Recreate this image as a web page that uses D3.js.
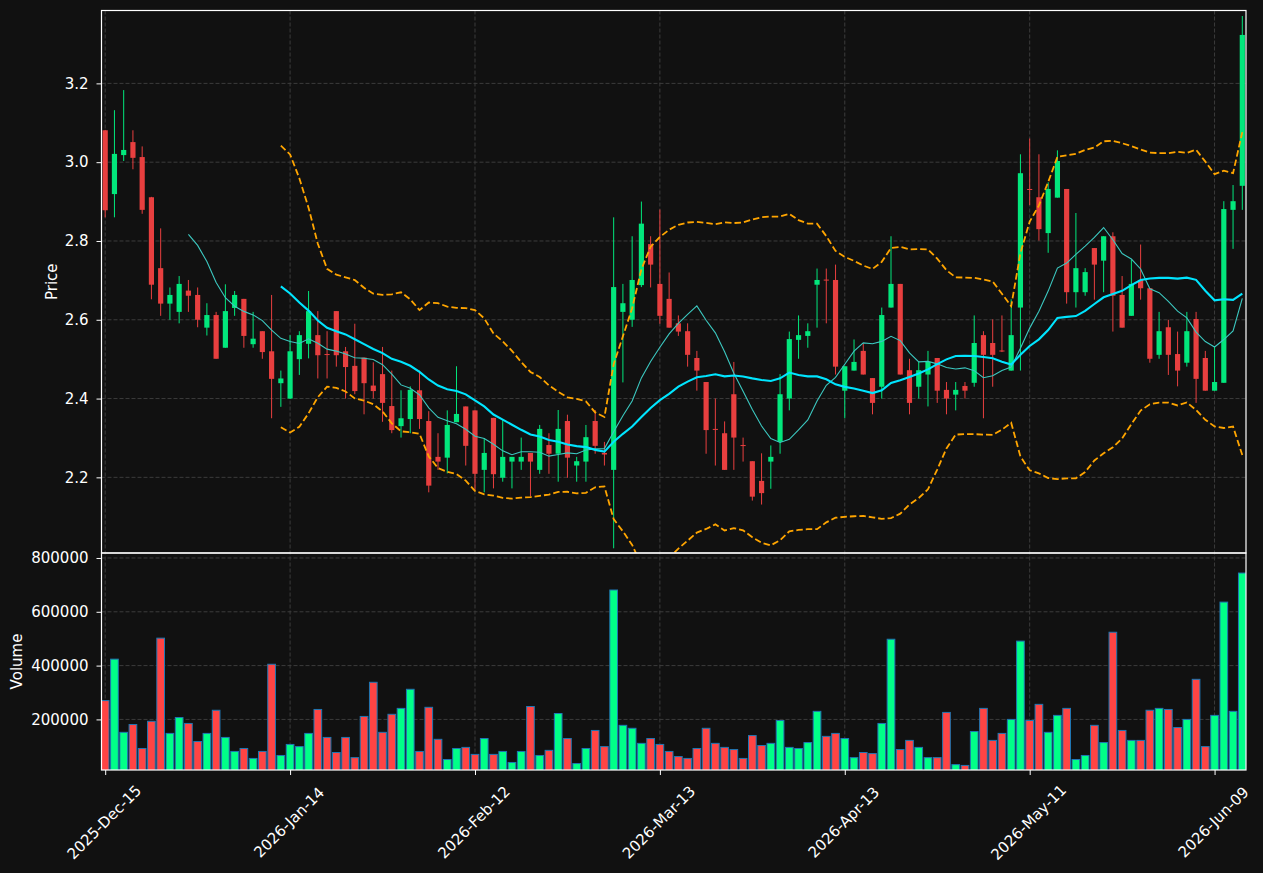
<!DOCTYPE html>
<html>
<head>
<meta charset="utf-8">
<script src="https://cdn.jsdelivr.net/npm/d3@7"></script>
<style>
  html, body { margin: 0; padding: 0; background: #111111; }
  svg { display: block; font-family: "DejaVu Sans", sans-serif; }
</style>
</head>
<body>
<div id="chart"></div>
<script>
// ========================
// Data
// ========================
const opens = [3.081,2.919,3.018,3.051,3.013,2.911,2.731,2.641,2.620,2.674,2.663,2.580,2.612,2.529,2.630,2.653,2.538,2.571,2.520,2.439,
  2.400,2.500,2.539,2.561,2.513,2.622,2.520,2.483,2.504,2.433,2.462,2.381,2.330,2.348,2.421,2.343,2.252,2.250,2.340,2.380,
  2.370,2.219,2.351,2.199,2.240,2.240,2.262,2.219,2.282,2.260,2.343,2.230,2.240,2.343,2.262,2.219,2.620,2.600,2.688,2.792,
  2.691,2.653,2.591,2.571,2.503,2.442,2.323,2.312,2.411,2.282,2.241,2.191,2.240,2.290,2.400,2.549,2.559,2.689,2.702,2.701,
  2.420,2.471,2.521,2.452,2.430,2.631,2.691,2.472,2.430,2.461,2.503,2.422,2.410,2.432,2.440,2.561,2.541,2.522,2.471,2.631,
  2.932,2.911,2.820,2.910,2.932,2.670,2.670,2.782,2.750,2.812,2.663,2.610,2.701,2.680,2.511,2.581,2.513,2.491,2.602,2.503,
  2.420,2.440,2.879,2.940];
const highs = [3.082,3.132,3.183,3.081,3.040,2.912,2.832,2.682,2.711,2.701,2.682,2.642,2.620,2.690,2.673,2.653,2.620,2.571,2.663,2.471,
  2.561,2.571,2.673,2.622,2.571,2.622,2.531,2.590,2.504,2.492,2.531,2.471,2.421,2.431,2.471,2.368,2.312,2.370,2.482,2.380,
  2.370,2.299,2.351,2.346,2.252,2.301,2.262,2.333,2.312,2.371,2.359,2.252,2.333,2.371,2.290,2.860,2.691,2.812,2.900,2.812,
  2.880,2.720,2.611,2.591,2.521,2.442,2.400,2.342,2.493,2.301,2.241,2.261,2.281,2.462,2.570,2.611,2.591,2.730,2.730,2.740,
  2.482,2.550,2.540,2.452,2.631,2.812,2.691,2.501,2.493,2.521,2.503,2.442,2.442,2.442,2.611,2.571,2.601,2.611,2.652,3.020,
  3.060,3.020,2.949,3.030,2.932,2.871,2.731,2.782,2.812,2.822,2.711,2.752,2.791,2.680,2.620,2.600,2.570,2.620,2.620,2.521,
  2.532,2.901,2.942,3.371];
const lows = [2.860,2.860,3.003,2.982,2.869,2.652,2.610,2.600,2.591,2.620,2.581,2.560,2.501,2.529,2.610,2.529,2.529,2.501,2.350,2.379,
  2.399,2.460,2.502,2.451,2.451,2.481,2.400,2.411,2.360,2.400,2.341,2.312,2.301,2.312,2.323,2.162,2.219,2.210,2.340,2.230,
  2.168,2.162,2.172,2.189,2.172,2.219,2.152,2.209,2.209,2.189,2.199,2.189,2.189,2.260,2.230,2.020,2.441,2.582,2.683,2.682,
  2.590,2.580,2.559,2.481,2.420,2.260,2.230,2.219,2.219,2.240,2.141,2.131,2.171,2.260,2.370,2.501,2.529,2.580,2.591,2.461,
  2.350,2.471,2.461,2.360,2.400,2.631,2.461,2.360,2.400,2.380,2.389,2.360,2.370,2.400,2.430,2.350,2.430,2.518,2.471,2.471,
  2.891,2.801,2.770,2.910,2.641,2.631,2.661,2.651,2.670,2.570,2.580,2.610,2.651,2.491,2.501,2.460,2.431,2.481,2.389,2.420,
  2.420,2.440,2.780,2.879];
const closes = [2.878,3.021,3.031,3.011,2.879,2.689,2.641,2.663,2.691,2.661,2.600,2.612,2.501,2.622,2.663,2.559,2.552,2.518,2.450,2.451,
  2.520,2.561,2.622,2.510,2.511,2.510,2.480,2.419,2.439,2.419,2.389,2.320,2.350,2.422,2.348,2.179,2.240,2.333,2.361,2.280,
  2.209,2.262,2.208,2.252,2.252,2.252,2.240,2.323,2.260,2.323,2.250,2.241,2.302,2.280,2.258,2.683,2.642,2.701,2.844,2.740,
  2.610,2.580,2.570,2.511,2.471,2.320,2.321,2.219,2.301,2.280,2.151,2.160,2.252,2.411,2.551,2.561,2.571,2.701,2.700,2.481,
  2.482,2.493,2.461,2.389,2.612,2.691,2.461,2.389,2.472,2.493,2.420,2.400,2.422,2.420,2.541,2.511,2.511,2.520,2.561,2.972,
  2.930,2.830,2.932,3.003,2.670,2.731,2.721,2.740,2.812,2.661,2.580,2.691,2.680,2.501,2.571,2.511,2.471,2.571,2.450,2.420,
  2.442,2.881,2.901,3.323];
const volumes = [270000,424000,152000,181000,92000,193000,502000,148000,207000,185000,118000,148000,234000,133000,81000,92000,55000,81000,405000,66000,
  107000,99000,148000,237000,133000,77000,133000,58000,211000,338000,152000,219000,241000,312000,81000,245000,126000,51000,92000,96000,
  70000,129000,70000,81000,40000,81000,248000,66000,85000,222000,129000,36000,92000,159000,99000,681000,178000,167000,111000,129000,
  107000,81000,62000,55000,92000,167000,111000,96000,88000,55000,140000,103000,111000,196000,96000,92000,114000,230000,137000,148000,
  129000,58000,77000,73000,185000,498000,88000,122000,96000,58000,58000,226000,32000,29000,155000,241000,122000,148000,200000,491000,
  196000,256000,152000,215000,241000,51000,66000,178000,114000,524000,159000,122000,122000,234000,241000,237000,170000,200000,349000,99000,
  215000,636000,230000,744000];

const tickIdx = [0, 20, 40, 60, 80, 100, 120];
const tickLabels = ["2025-Dec-15", "2026-Jan-14", "2026-Feb-12", "2026-Mar-13", "2026-Apr-13", "2026-May-11", "2026-Jun-09"];
const priceTicks = [2.2, 2.4, 2.6, 2.8, 3.0, 3.2];
const volumeTicks = [200000, 400000, 600000, 800000];

// ========================
// Indicators from the closes
// ========================
function sma(values, n) {
  return values.map((v, i) => i < n - 1 ? null : d3.mean(values.slice(i - n + 1, i + 1)));
}
function bands(values, n, k) {
  return values.map((v, i) => {
    if (i < n - 1) return null;
    const win = values.slice(i - n + 1, i + 1);
    const m = d3.mean(win);
    const sd = Math.sqrt(d3.mean(win, w => (w - m) * (w - m)));
    return { up: m + k * sd, lo: m - k * sd };
  });
}
const ma10 = sma(closes, 10);
const ma20 = sma(closes, 20);
const bb = bands(closes, 20, 2);

// ========================
// Setup
// ========================
const W = 1263, H = 873;
const left = 101.5, right = 1246;
const pTop = 10.5, pBot = 553, vBot = 770;
const FONT = "'DejaVu Sans', sans-serif";

const upC = "#02e77c", downC = "#e83f3f";
const upV = "#00ff88", downV = "#ff4444";

const svg = d3.select("#chart").append("svg")
  .attr("width", W).attr("height", H);

svg.append("rect").attr("width", W).attr("height", H).attr("fill", "#111111");

const x = d3.scaleLinear().domain([-0.4, 123.4]).range([left, right]);
const yP = d3.scaleLinear().domain([2.008, 3.385]).range([pBot, pTop]);
const yV = d3.scaleLinear().domain([12000, 818500]).range([vBot, pBot]);
const step = x(1) - x(0);

const defs = svg.append("defs");
defs.append("clipPath").attr("id", "clipP")
  .append("rect").attr("x", left).attr("y", pTop).attr("width", right - left).attr("height", pBot - pTop);
defs.append("clipPath").attr("id", "clipV")
  .append("rect").attr("x", left).attr("y", pBot).attr("width", right - left).attr("height", vBot - pBot);

// --- Grid ---
const grid = svg.append("g")
  .attr("stroke", "#3c3c3c").attr("stroke-width", 1).attr("stroke-dasharray", "4,2");
tickIdx.forEach(t => {
  grid.append("line").attr("x1", x(t)).attr("x2", x(t)).attr("y1", pTop).attr("y2", vBot);
});
priceTicks.forEach(t => {
  grid.append("line").attr("x1", left).attr("x2", right).attr("y1", yP(t)).attr("y2", yP(t));
});
volumeTicks.forEach(t => {
  grid.append("line").attr("x1", left).attr("x2", right).attr("y1", yV(t)).attr("y2", yV(t));
});

// --- Candles ---
const idx = d3.range(closes.length);
const price = svg.append("g").attr("clip-path", "url(#clipP)");

price.selectAll(".wick").data(idx).enter().append("line")
  .attr("x1", i => x(i)).attr("x2", i => x(i))
  .attr("y1", i => yP(highs[i])).attr("y2", i => yP(lows[i]))
  .attr("stroke", i => closes[i] >= opens[i] ? upC : downC)
  .attr("stroke-width", 1);

const bw = step * 0.56;
price.selectAll(".body").data(idx).enter().append("rect")
  .attr("x", i => x(i) - bw / 2)
  .attr("width", bw)
  .attr("y", i => yP(Math.max(opens[i], closes[i])))
  .attr("height", i => Math.max(1, Math.abs(yP(opens[i]) - yP(closes[i]))))
  .attr("fill", i => closes[i] >= opens[i] ? upC : downC);

// --- Overlays ---
const line = d3.line().defined(d => d[1] != null).x(d => x(d[0])).y(d => yP(d[1]));

price.append("path")
  .attr("d", line(bb.map((b, i) => [i, b ? b.up : null])))
  .attr("fill", "none").attr("stroke", "#ffa500").attr("stroke-width", 1.8)
  .attr("stroke-dasharray", "6.5,3");
price.append("path")
  .attr("d", line(bb.map((b, i) => [i, b ? b.lo : null])))
  .attr("fill", "none").attr("stroke", "#ffa500").attr("stroke-width", 1.8)
  .attr("stroke-dasharray", "6.5,3");
price.append("path")
  .attr("d", line(ma10.map((v, i) => [i, v])))
  .attr("fill", "none").attr("stroke", "#3cc8c0").attr("stroke-width", 1.1);
price.append("path")
  .attr("d", line(ma20.map((v, i) => [i, v])))
  .attr("fill", "none").attr("stroke", "#00e5ff").attr("stroke-width", 2.1);

// --- Volume ---
const vw = step * 0.83;
svg.append("g").attr("clip-path", "url(#clipV)")
  .selectAll("rect").data(idx).enter().append("rect")
  .attr("x", i => x(i) - vw / 2)
  .attr("width", vw)
  .attr("y", i => yV(volumes[i]))
  .attr("height", i => vBot - yV(volumes[i]) + 2)
  .attr("fill", i => closes[i] >= opens[i] ? upV : downV)
  .attr("stroke", "#1f77b4")
  .attr("stroke-width", 1);

// --- Axes ---
function styleAxis(g) {
  g.attr("font-family", FONT).attr("font-size", 15);
  g.select(".domain").remove();
  g.selectAll("line").attr("stroke", "#ffffff");
  g.selectAll("text").attr("fill", "#ffffff");
}

svg.append("g")
  .attr("transform", `translate(${left},0)`)
  .call(d3.axisLeft(yP).tickValues(priceTicks).tickFormat(d3.format(".1f")).tickSize(5).tickPadding(8))
  .call(styleAxis);

svg.append("g")
  .attr("transform", `translate(${left},0)`)
  .call(d3.axisLeft(yV).tickValues(volumeTicks).tickFormat(d3.format("d")).tickSize(5).tickPadding(8))
  .call(styleAxis);

const xAxis = svg.append("g")
  .attr("transform", `translate(0,${vBot})`)
  .call(d3.axisBottom(x).tickValues(tickIdx).tickFormat((d, i) => tickLabels[i]).tickSize(5))
  .call(styleAxis);

xAxis.selectAll("text")
  .attr("y", null).attr("dy", null)
  .attr("x", -2)
  .attr("text-anchor", "middle")
  .attr("dominant-baseline", "central")
  .attr("transform", "translate(0,51) rotate(-45)");

// --- Frames ---
svg.append("rect")
  .attr("x", left).attr("y", pTop).attr("width", right - left).attr("height", pBot - pTop)
  .attr("fill", "none").attr("stroke", "#ffffff").attr("stroke-width", 1.2);
svg.append("rect")
  .attr("x", left).attr("y", pBot).attr("width", right - left).attr("height", vBot - pBot)
  .attr("fill", "none").attr("stroke", "#ffffff").attr("stroke-width", 1.2);

// --- Axis titles ---
svg.append("text")
  .attr("transform", `translate(52,${(pTop + pBot) / 2}) rotate(-90)`)
  .attr("text-anchor", "middle").attr("dominant-baseline", "central")
  .attr("fill", "#ffffff").attr("font-family", FONT).attr("font-size", 15)
  .text("Price");
svg.append("text")
  .attr("transform", `translate(17,${(pBot + vBot) / 2}) rotate(-90)`)
  .attr("text-anchor", "middle").attr("dominant-baseline", "central")
  .attr("fill", "#ffffff").attr("font-family", FONT).attr("font-size", 15)
  .text("Volume");
</script>
</body>
</html>
